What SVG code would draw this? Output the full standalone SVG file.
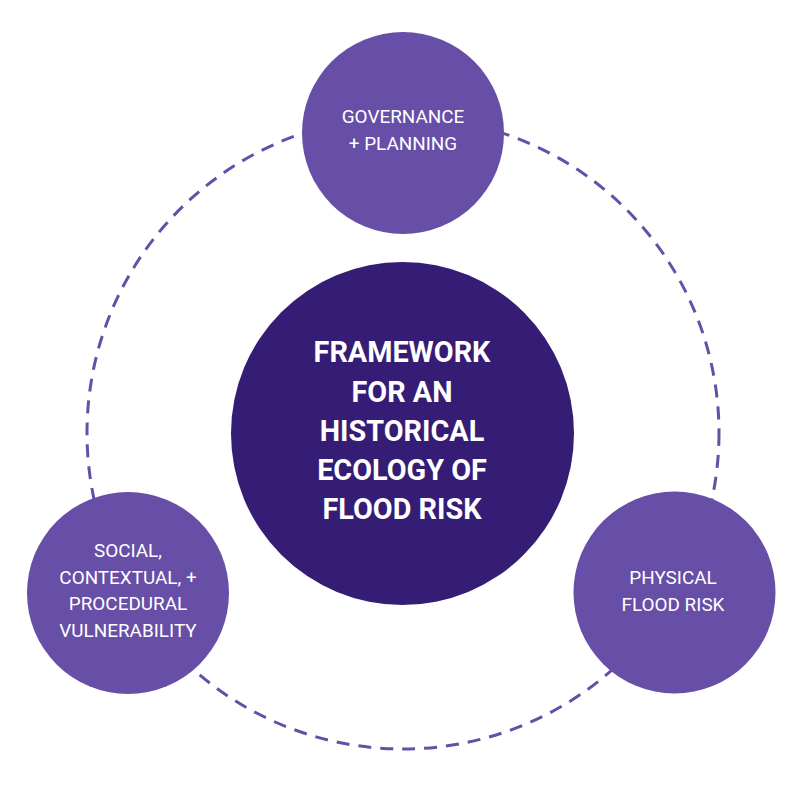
<svg xmlns="http://www.w3.org/2000/svg" width="794" height="804" viewBox="0 0 794 804">
<style>
.ring{fill:none;stroke:#674EA7;stroke-width:3;stroke-dasharray:13 9}
.outer{fill:#674EA7}
.core{fill:#351C75}
.lbl{font-family:Roboto,"Liberation Sans",sans-serif;font-size:18.9px;fill:#ffffff;text-anchor:middle}
.title{font-family:Roboto,"Liberation Sans",sans-serif;font-size:28.8px;font-weight:bold;fill:#ffffff;text-anchor:middle}
</style>
<rect width="794" height="804" fill="#ffffff"/>
<g id="connectors">
<circle class="ring" cx="403" cy="433" r="316"/>
</g>
<g id="center">
<circle class="core" cx="402.5" cy="433.5" r="171.5"/>
<text class="title" x="402" y="362">FRAMEWORK</text>
<text class="title" x="402" y="401.5">FOR AN</text>
<text class="title" x="402" y="441">HISTORICAL</text>
<text class="title" x="402" y="480">ECOLOGY OF</text>
<text class="title" x="402" y="519">FLOOD RISK</text>
</g>
<g id="governance">
<circle class="outer" cx="403" cy="133" r="101"/>
<text class="lbl" x="403" y="123">GOVERNANCE</text>
<text class="lbl" x="403" y="150">+ PLANNING</text>
</g>
<g id="social">
<circle class="outer" cx="128" cy="593" r="101"/>
<text class="lbl" x="128" y="557">SOCIAL,</text>
<text class="lbl" x="128" y="583.5">CONTEXTUAL, +</text>
<text class="lbl" x="128" y="610">PROCEDURAL</text>
<text class="lbl" x="128" y="637">VULNERABILITY</text>
</g>
<g id="physical">
<circle class="outer" cx="674.5" cy="592.5" r="101"/>
<text class="lbl" x="673" y="584">PHYSICAL</text>
<text class="lbl" x="673" y="611">FLOOD RISK</text>
</g>
</svg>
